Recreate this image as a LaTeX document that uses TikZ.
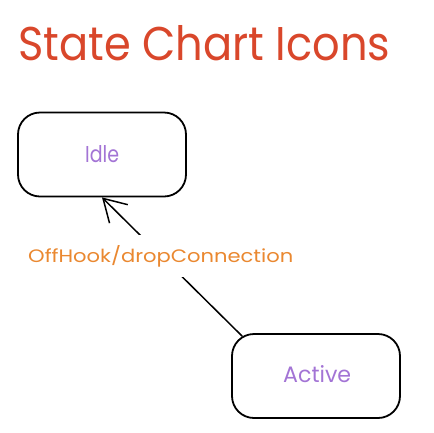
\documentclass[tikz,border=0pt]{standalone}
\usepackage{fontspec}
\setmainfont{Poppins}
\usepackage{graphicx}
\usetikzlibrary{arrows.meta,calc}
\definecolor{titlered}{HTML}{D9472B}
\definecolor{labelorange}{HTML}{EA8830}
\definecolor{statepurple}{HTML}{A374D5}
\tikzset{
  statebox/.style={draw=black, line width=1.8pt, rounded corners=22pt,
    minimum width=168pt, minimum height=84pt, inner sep=0pt},
  txt/.style={inner sep=0pt, anchor=base west},
  conn/.style={draw=black, line width=1.5pt, line cap=round, line join=round,
    -{Straight Barb[length=22pt,width=26pt,line width=1.5pt]}},
  edgelabel/.style={txt, text=labelorange, fill=white, inner xsep=0pt, inner ysep=10pt}
}
\begin{document}
\begin{tikzpicture}[x=1pt,y=-1pt]
\useasboundingbox (0,0) rectangle (434,432);
\node[txt, text=titlered] (title) at (18,60) {\resizebox{372pt}{35pt}{State Chart Icons}};
\node[statebox] (idle) at (102,154.5) {};
\node[statebox] (active) at (316,376) {};
\node[txt, text=statepurple] (idletxt) at (85,162) {\resizebox{34pt}{17pt}{Idle}};
\node[txt, text=statepurple] (activetxt) at (283,382) {\resizebox{68pt}{17pt}{Active}};
\coordinate (start) at ($(active.north west)+(11,3)$);
\draw[conn] (start) -- (idle.south);
\node[edgelabel] (lbl) at (28,262) {\resizebox{265pt}{17pt}{OffHook/dropConnection}};
\end{tikzpicture}
\end{document}
